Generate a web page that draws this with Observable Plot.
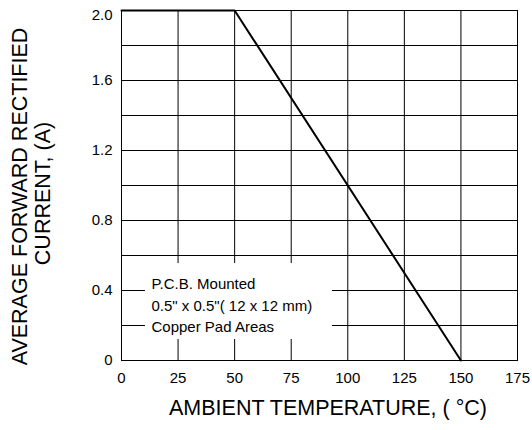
<!DOCTYPE html>
<html><head><meta charset="utf-8">
<script src="https://cdn.jsdelivr.net/npm/d3@7"></script>
<script src="https://cdn.jsdelivr.net/npm/@observablehq/plot@0.6"></script>
<style>body{margin:0;background:#fff;} svg{display:block;}</style>
</head><body><div id="chart"></div>
<script>
// Derating curve data
const temperature = [0, 50, 150];
const current = [2.0, 2.0, 0];
// Axis ticks and grid
const xTicks = [0, 25, 50, 75, 100, 125, 150, 175];
const yTicks = [0, 0.4, 0.8, 1.2, 1.6, 2.0];
const yGrid = [0, 0.2, 0.4, 0.6, 0.8, 1.0, 1.2, 1.4, 1.6, 1.8, 2.0];
// Texts
const legendLines = ["P.C.B. Mounted", "0.5\" x 0.5\"( 12 x 12 mm)", "Copper Pad Areas"];
const xTitle = "AMBIENT TEMPERATURE, ( \u00B0C)";
const yTitle = ["AVERAGE FORWARD RECTIFIED", "CURRENT, (A)"];
// Legend box extent (data units)
const legendX = [10.6, 93.2];
const legendY = [0.12, 0.554];

const pts = temperature.map((t, i) => ({t, a: current[i]}));
const font = "Liberation Sans, Arial, sans-serif";

const chart = Plot.plot({
  width: 532,
  height: 430,
  marginLeft: 121,
  marginRight: 15,
  marginTop: 10,
  marginBottom: 70,
  style: {fontFamily: font, background: "#fff", color: "#000"},
  x: {domain: [0, 175]},
  y: {domain: [0, 2.0]},
  marks: [
    Plot.gridX(xTicks, {stroke: "#000", strokeOpacity: 1, strokeWidth: 1}),
    Plot.gridY(yGrid, {stroke: "#000", strokeOpacity: 1, strokeWidth: 1}),
    Plot.rect([0], {x1: legendX[0], x2: legendX[1], y1: legendY[0], y2: legendY[1], fill: "#fff"}),
    Plot.text([legendLines.join("\n")], {
      x: legendX[0], y: legendY[1], text: d => d, textAnchor: "start", lineAnchor: "top",
      dx: 6, dy: 10, fontSize: 15, lineHeight: 1.45, fill: "#000"
    }),
    Plot.frame({stroke: "#000", strokeWidth: 1}),
    Plot.line(pts, {x: "t", y: "a", stroke: "#000", strokeWidth: 2}),
    Plot.axisX(xTicks, {tickSize: 0, tickPadding: 12, fontSize: 15, label: null, fill: "#000"}),
    Plot.axisY(yTicks.filter(d => d < 2), {tickSize: 0, tickPadding: 9, fontSize: 15, label: null, fill: "#000", tickFormat: d => d === 0 ? "0" : d.toFixed(1)}),
    Plot.axisY([2.0], {tickSize: 0, tickPadding: 9, fontSize: 15, label: null, fill: "#000", dy: 5, tickFormat: d => d.toFixed(1)}),
    Plot.text([xTitle], {frameAnchor: "bottom", text: d => d, textAnchor: "middle", dx: 8.5, dy: 54, fontSize: 21.5, fill: "#000"}),
    Plot.text([yTitle[0]], {frameAnchor: "left", text: d => d, textAnchor: "middle", rotate: -90, dx: -101.7, dy: 11, fontSize: 21.5, fill: "#000"}),
    Plot.text([yTitle[1]], {frameAnchor: "left", text: d => d, textAnchor: "middle", rotate: -90, dx: -78.5, dy: 8, fontSize: 21.5, fill: "#000"})
  ]
});
document.getElementById("chart").appendChild(chart);
</script>
</body></html>
